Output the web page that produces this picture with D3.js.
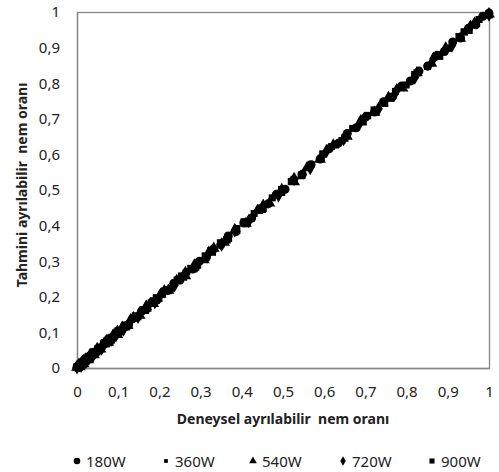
<!DOCTYPE html>
<html>
<head>
<meta charset="utf-8">
<script src="https://cdnjs.cloudflare.com/ajax/libs/d3/7.8.5/d3.min.js"></script>
<style>
  body { margin: 0; background: #fff; }
  svg text { font-family: "Noto Sans", sans-serif; fill: #222; }
</style>
</head>
<body>
<div id="chart"></div>
<script>
const svgWidth = 499
const svgHeight = 472
const margin = { left: 77, right: 10, top: 12, bottom: 104 }
const width = svgWidth - margin.left - margin.right,
      height = svgHeight - margin.top - margin.bottom

const seriesNames = ["180W", "360W", "540W", "720W", "900W"]
const axisTicks = [0, 0.1, 0.2, 0.3, 0.4, 0.5, 0.6, 0.7, 0.8, 0.9, 1]

// deneysel (experimental) and tahmini (predicted) moisture ratio per power level
const exp180 = [1, .985, .968, .95, .931, .912, .892, .872, .851, .83,
  .809, .788, .766, .744, .722, .70, .678, .656, .634, .612,
  .59, .568, .547, .526, .505, .484, .464, .444, .424, .405,
  .386, .367, .349, .331, .314, .297, .281, .265, .25, .235,
  .221, .207, .194, .181, .169, .157, .146, .135, .125, .115,
  .106, .097, .089, .081, .073, .066, .059, .053, .047, .041,
  .036, .031, .026, .022, .018, .014, .011, .008, .005, .003,
  .001, 0]
const pred180 = [.997, .988, .964, .954, .927, .916, .889, .876, .848, .834,
  .806, .792, .762, .748, .719, .704, .675, .659, .631, .616,
  .587, .571, .544, .529, .502, .488, .461, .447, .421, .408,
  .383, .371, .346, .334, .311, .300, .278, .268, .247, .238,
  .218, .210, .191, .184, .166, .160, .143, .138, .122, .118,
  .103, .100, .086, .084, .070, .069, .056, .056, .044, .044,
  .033, .034, .023, .025, .015, .017, .008, .011, .002, .006,
  .001, .002]

const exp360 = [1, .976, .952, .927, .902, .877, .851, .825, .799, .773,
  .747, .721, .695, .669, .643, .618, .593, .568, .544, .52,
  .497, .474, .452, .43, .409, .388, .368, .348, .329, .311,
  .293, .276, .259, .243, .228, .213, .199, .185, .172, .16,
  .148, .137, .126, .116, .106, .097, .088, .08, .072, .064,
  .057, .05, .044, .038, .032, .027, .022, .017, .013, .009,
  .006, .003, 0]
const pred360 = [.995, .979, .948, .931, .898, .881, .847, .829, .795, .777,
  .743, .725, .691, .673, .639, .622, .589, .572, .540, .524,
  .493, .478, .448, .434, .405, .392, .364, .352, .325, .315,
  .289, .280, .255, .247, .224, .217, .195, .189, .168, .164,
  .144, .141, .122, .120, .102, .101, .084, .084, .068, .068,
  .053, .054, .040, .042, .028, .031, .018, .021, .009, .013,
  .002, .006, .001]

const exp540 = [1, .965, .93, .895, .86, .825, .79, .756, .722, .688,
  .655, .622, .59, .558, .527, .497, .467, .438, .41, .383,
  .357, .332, .308, .285, .263, .242, .222, .203, .185, .168,
  .152, .137, .123, .11, .098, .087, .076, .066, .057, .049,
  .041, .034, .027, .021, .016, .011, .007, .003, 0]
const pred540 = [.994, .969, .926, .899, .856, .829, .786, .760, .718, .692,
  .651, .626, .586, .562, .523, .501, .463, .442, .406, .387,
  .353, .336, .304, .289, .259, .246, .218, .207, .181, .172,
  .148, .141, .119, .114, .094, .091, .072, .070, .053, .053,
  .037, .038, .023, .025, .012, .015, .003, .007, .002]

const exp720 = [1, .955, .91, .865, .82, .776, .732, .689, .647, .606,
  .566, .527, .489, .452, .417, .383, .351, .32, .291, .263,
  .237, .212, .189, .168, .148, .13, .113, .098, .084, .071,
  .059, .049, .039, .031, .023, .016, .01, .005, 0]
const pred720 = [.993, .959, .906, .869, .816, .780, .728, .693, .643, .610,
  .562, .531, .485, .456, .413, .387, .347, .324, .287, .267,
  .233, .216, .185, .172, .144, .134, .109, .102, .080, .075,
  .055, .053, .035, .035, .019, .020, .006, .009, .002]

const exp900 = [1, .94, .88, .82, .762, .705, .65, .597, .546, .497,
  .45, .406, .364, .325, .288, .254, .222, .193, .166, .142,
  .12, .1, .083, .067, .053, .041, .03, .021, .013, .006, 0]
const pred900 = [.992, .944, .876, .824, .758, .709, .646, .601, .542, .501,
  .446, .410, .360, .329, .284, .258, .218, .197, .162, .146,
  .116, .104, .079, .071, .049, .045, .026, .025, .009, .010, .003]

const expData = [exp180, exp360, exp540, exp720, exp900]
const predData = [pred180, pred360, pred540, pred720, pred900]

const symbolTypes = [d3.symbolCircle, d3.symbolSquare, d3.symbolTriangle, d3.symbolDiamond, d3.symbolSquare]
const symbolSizes = [64, 49, 60, 60, 56]
const legendSizes = [34, 14, 26, 26, 26]

let svg = d3.select("#chart")
  .append("svg")
  .attr("width", svgWidth)
  .attr("height", svgHeight)

let g = svg.append("g")
  .attr("transform", "translate(" + margin.left + ", " + margin.top + ")")

var x = d3.scaleLinear().domain([0, 1]).range([0, width])
var y = d3.scaleLinear().domain([0, 1]).range([height, 0])

// plot area border
g.append("rect")
  .attr("x", 0.5)
  .attr("y", 0.5)
  .attr("width", width)
  .attr("height", height)
  .attr("fill", "none")
  .attr("stroke", "#868686")
  .attr("stroke-width", 1.3)

//axes
var fmt = d => String(d).replace(".", ",")
var xAxisCall = d3.axisBottom(x).tickValues(axisTicks).tickFormat(fmt).tickSize(0).tickPadding(18)
g.append("g")
  .attr("class", "x axis")
  .attr("transform", "translate(0, " + height + ")")
  .call(xAxisCall)
var yAxisCall = d3.axisLeft(y).tickValues(axisTicks).tickFormat(fmt).tickSize(0).tickPadding(17)
g.append("g")
  .attr("class", "y axis")
  .call(yAxisCall)

g.selectAll(".axis path").attr("stroke", "#868686").attr("stroke-width", 1.3)
g.selectAll(".axis text").attr("font-size", "15px").attr("font-family", "Noto Sans").attr("fill", "#222")

//points
expData.forEach((arr, s) => {
  let pts = arr.map((v, i) => [v, predData[s][i]])
  g.append("g").selectAll("path")
    .data(pts)
    .enter()
    .append("path")
    .attr("transform", d => "translate(" + x(d[0]) + "," + y(d[1]) + ")")
    .attr("d", d3.symbol().type(symbolTypes[s]).size(symbolSizes[s]))
    .attr("fill", "#000")
})

//Labels
g.append("text")
  .attr("x", width / 2)
  .attr("y", height + 56)
  .attr("font-size", "14px")
  .attr("font-weight", "bold")
  .attr("text-anchor", "middle")
  .attr("xml:space", "preserve")
  .text("Deneysel ayrılabilir  nem oranı")
g.append("text")
  .attr("x", -(height / 2) + 5)
  .attr("y", -50)
  .attr("font-size", "14px")
  .attr("font-weight", "bold")
  .attr("text-anchor", "middle")
  .attr("transform", "rotate(-90)")
  .attr("xml:space", "preserve")
  .text("Tahmini ayrılabilir  nem oranı")

//legend
const legendX = [77, 166, 253, 343, 432]
let legend = svg.append("g").attr("transform", "translate(0, 461)")
seriesNames.forEach((name, i) => {
  legend.append("path")
    .attr("transform", "translate(" + legendX[i] + ",0)")
    .attr("d", d3.symbol().type(symbolTypes[i]).size(legendSizes[i]))
    .attr("fill", "#000")
  legend.append("text")
    .attr("x", legendX[i] + 9)
    .attr("y", 5.5)
    .attr("font-size", "15px")
    .text(name)
})
</script>
</body>
</html>
